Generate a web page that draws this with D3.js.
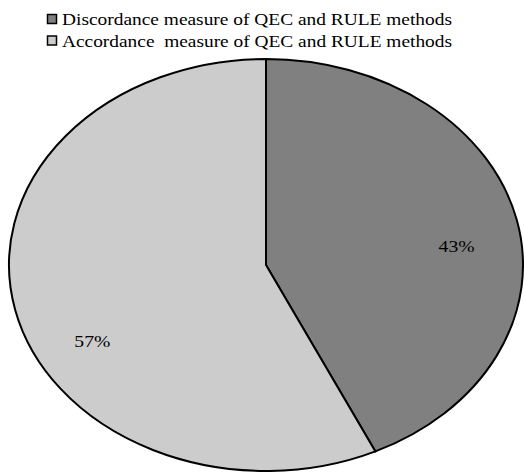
<!DOCTYPE html>
<html>
<head>
<meta charset="utf-8">
<script src="https://cdn.jsdelivr.net/npm/d3@7"></script>
<style>
  body { margin: 0; background: #fff; }
</style>
</head>
<body>
<div id="chart"></div>
<script>
// chart data
var categories = ["Discordance measure of QEC and RULE methods",
                  "Accordance  measure of QEC and RULE methods"];
var values = [43, 57];
var colors = ["#808080", "#cccccc"];

var width = 524, height = 472;
var cx = 266, cy = 265, rx = 257, ry = 206;
var serif = "'Liberation Serif', 'Times New Roman', serif";

var svg = d3.select("#chart").append("svg")
	.attr("width", width)
	.attr("height", height);

// legend
var legend = svg.append("g").attr("transform", "translate(47,14)");
var rows = legend.selectAll("g")
	.data(categories).enter()
	.append("g")
	.attr("transform", function(d, i) { return "translate(0," + (i * 21.5) + ")"; });

rows.append("rect")
	.attr("width", 9).attr("height", 9)
	.attr("x", 0.5).attr("y", 0.5)
	.attr("fill", function(d, i) { return colors[i]; })
	.attr("stroke", "#000").attr("stroke-width", 1.5);

rows.append("text")
	.attr("x", 15).attr("y", 11)
	.style("font-family", serif)
	.style("font-size", "17px")
	.style("white-space", "pre")
	.attr("textLength", 390)
	.attr("lengthAdjust", "spacingAndGlyphs")
	.text(function(d) { return d; });

// pie, drawn on a circle then squashed into an ellipse
var pie = d3.pie().sort(null).value(function(d) { return d; });
var arcs = pie(values);
var arc = d3.arc().innerRadius(0).outerRadius(rx);

var g = svg.append("g")
	.attr("transform", "translate(" + cx + "," + cy + ") scale(1," + (ry / rx) + ")");

g.selectAll("path")
	.data(arcs).enter()
	.append("path")
	.attr("d", arc)
	.attr("fill", function(d, i) { return colors[i]; })
	.attr("stroke", "#000")
	.attr("stroke-width", 2)
	.attr("vector-effect", "non-scaling-stroke");

// labels (excel nudges these, so a small per-slice offset)
var labelArc = d3.arc().innerRadius(rx * 0.76).outerRadius(rx * 0.76);
var nudge = [[0, 21], [17, 48]];
svg.selectAll(".label")
	.data(arcs).enter()
	.append("text")
	.attr("class", "label")
	.attr("text-anchor", "middle")
	.style("font-family", serif)
	.style("font-size", "17px")
	.attr("textLength", 36)
	.attr("lengthAdjust", "spacingAndGlyphs")
	.attr("x", function(d, i) { return cx + labelArc.centroid(d)[0] + nudge[i][0]; })
	.attr("y", function(d, i) { return cy + labelArc.centroid(d)[1] * ry / rx + nudge[i][1]; })
	.text(function(d) { return d.value + "%"; });
</script>
</body>
</html>
